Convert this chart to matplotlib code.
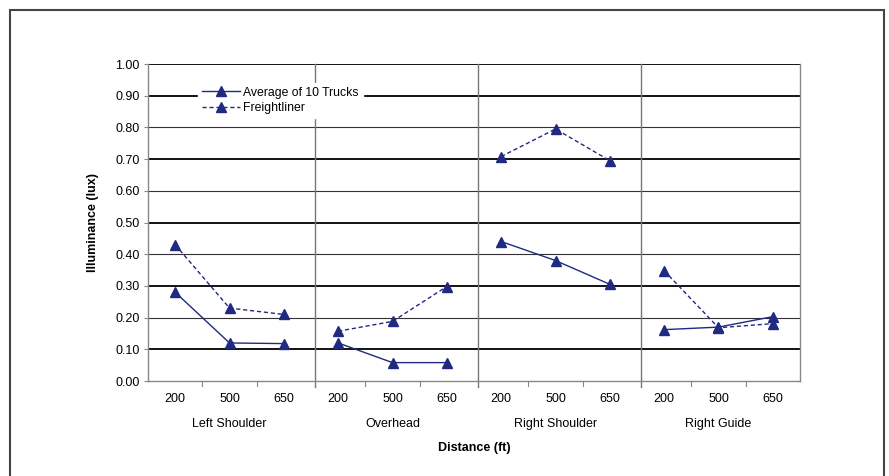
import matplotlib
matplotlib.use("Agg")
import matplotlib.pyplot as plt
from matplotlib.lines import Line2D
from matplotlib.patches import Rectangle

plt.rcParams['font.family'] = ['Liberation Sans', 'DejaVu Sans']

groups = ["Left Shoulder", "Overhead", "Right Shoulder", "Right Guide"]
distances = ["200", "500", "650"]
average = [[0.28, 0.12, 0.118], [0.12, 0.058, 0.058], [0.44, 0.38, 0.305], [0.162, 0.17, 0.203]]
freightliner = [[0.43, 0.23, 0.21], [0.157, 0.188, 0.298], [0.708, 0.795, 0.695], [0.348, 0.168, 0.181]]

color = "#1f2a80"

fig = plt.figure(figsize=(8.89, 4.76), dpi=100)
ax = fig.add_axes([148/889, 1-381/476, (800-148)/889, (381-64)/476])

n = len(distances)
for gi in range(len(groups)):
    xs = [gi*n + i for i in range(n)]
    ax.plot(xs, average[gi], color=color, lw=1.0, ls='-', marker='^', ms=7, zorder=5)
    ax.plot(xs, freightliner[gi], color=color, lw=1.0, ls=(0, (3, 2)), marker='^', ms=7, zorder=5)

ax.set_xlim(-0.5, len(groups)*n - 0.5)
ax.set_ylim(0, 1.0)
yt = [i/10 for i in range(11)]
ax.set_yticks(yt)
ax.set_yticklabels([f"{v:.2f}" for v in yt], fontsize=9)
for i, v in enumerate(yt[1:], start=1):
    if i % 2 == 1 or i == 10:
        ax.axhline(v, color='black', lw=1.3, zorder=1)
    else:
        ax.axhline(v, color='#333333', lw=0.8, zorder=1)

ax.set_xticks(range(len(groups)*n))
ax.set_xticklabels(distances*len(groups), fontsize=9)
ax.tick_params(axis='x', length=0, pad=9)
ax.tick_params(axis='y', length=3, color='#888888', pad=3)

for s in ['left', 'bottom', 'right']:
    ax.spines[s].set_color('#888888')
    ax.spines[s].set_linewidth(1.0)
ax.spines['top'].set_visible(False)

for gi in range(1, len(groups)):
    xv = gi*n - 0.5 + 0.08
    ax.plot([xv, xv], [-0.02, 1.0], color='#777777', lw=1.0, clip_on=False, zorder=2)
# minor tick marks at bottom
for k in range(len(groups)*n - 1):
    if (k+1) % n != 0:
        ax.plot([k+0.5, k+0.5], [-0.015, 0], color='#888888', lw=0.8, clip_on=False)

for gi, g in enumerate(groups):
    ax.text(gi*n + 1, -0.135, g, ha='center', va='center', fontsize=9,
            transform=ax.transData, clip_on=False)

ax.set_xlabel("Distance (ft)", fontsize=9, fontweight='bold', labelpad=26)
ax.set_ylabel("Illuminance (lux)", fontsize=9, fontweight='bold', labelpad=12)

handles = [Line2D([], [], color=color, lw=1.0, ls='-', marker='^', ms=7),
           Line2D([], [], color=color, lw=1.0, ls=(0, (3, 2)), marker='^', ms=7)]
leg = ax.legend(handles, ["Average of 10 Trucks", "Freightliner"], loc='upper left',
                bbox_to_anchor=(0.077, 0.94), fontsize=8.8, frameon=True, fancybox=False,
                handlelength=3.1, handletextpad=0.3, borderpad=0.3, labelspacing=0.3,
                borderaxespad=0)
leg.get_frame().set_edgecolor('white')
leg.get_frame().set_facecolor('white')
leg.get_frame().set_alpha(1)
leg.set_zorder(10)

fig.patches.append(Rectangle((10/889, -0.1), (884-10)/889, 1 - 10/476 + 0.1,
                             transform=fig.transFigure, fill=False, edgecolor='#444444', lw=1.5))

fig.savefig("out.png", dpi=100)
